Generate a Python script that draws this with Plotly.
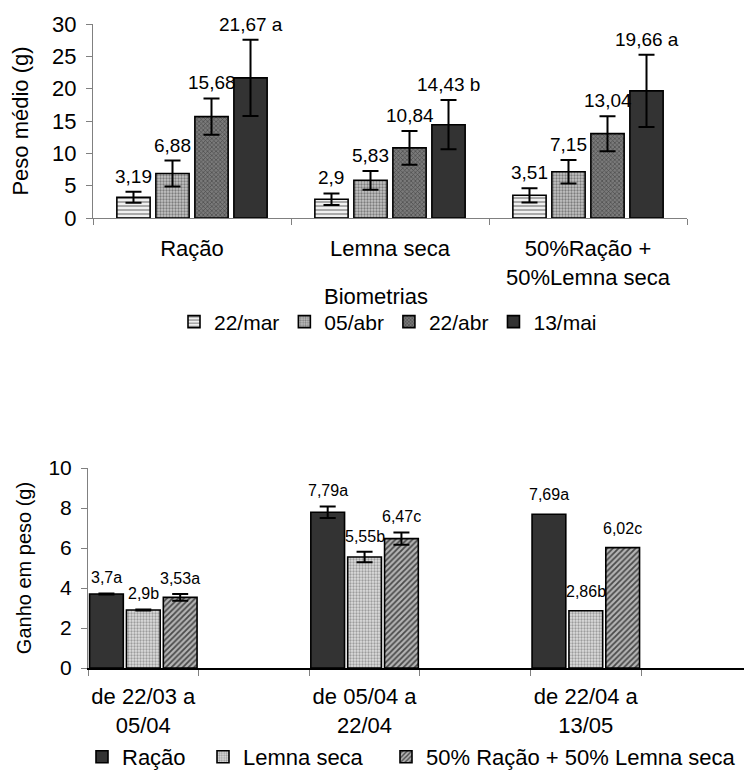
import plotly.graph_objects as go

# ---------------- Chart 1 data: Peso médio (g) ----------------
groups1 = ["Ração", "Lemna seca", "50%Ração +<br>50%Lemna seca"]
dates1 = ["22/mar", "05/abr", "22/abr", "13/mai"]
peso_22mar = [3.19, 2.90, 3.51]
peso_05abr = [6.88, 5.83, 7.15]
peso_22abr = [15.68, 10.84, 13.04]
peso_13mai = [21.67, 14.43, 19.66]
err_22mar = [0.85, 0.90, 1.10]
err_05abr = [2.00, 1.45, 1.80]
err_22abr = [2.80, 2.60, 2.70]
err_13mai = [5.90, 3.80, 5.60]
lab_22mar = ["3,19", "2,9", "3,51"]
lab_05abr = ["6,88", "5,83", "7,15"]
lab_22abr = ["15,68", "10,84", "13,04"]
lab_13mai = ["21,67 a", "14,43 b", "19,66 a"]
yticks1 = [0, 5, 10, 15, 20, 25, 30]

# ---------------- Chart 2 data: Ganho em peso (g) ----------------
periods2 = ["de 22/03 a<br>05/04", "de 05/04 a<br>22/04", "de 22/04 a<br>13/05"]
series2 = ["Ração", "Lemna seca", "50% Ração + 50% Lemna seca"]
ganho_racao = [3.70, 7.79, 7.69]
ganho_lemna = [2.90, 5.55, 2.86]
ganho_mix = [3.53, 6.47, 6.02]
err_racao = [0.03, 0.29, None]
err_lemna = [0.03, 0.26, None]
err_mix = [0.17, 0.31, None]
lab_racao = ["3,7a", "7,79a", "7,69a"]
lab_lemna = ["2,9b", "5,55b", "2,86b"]
lab_mix = ["3,53a", "6,47c", "6,02c"]
yticks2 = [0, 2, 4, 6, 8, 10]

FONT = "Liberation Sans, Arial, sans-serif"
H, W = 778, 744

fig = go.Figure()

# ----- chart 1
styles1 = [
    dict(color="#eeeeee", pattern=dict(shape="-", fgcolor="#8a8a8a", bgcolor="#f0f0f0", size=4, solidity=0.35)),
    dict(color="#b0b0b0", pattern=dict(shape=".", fgcolor="#7c7c7c", bgcolor="#c4c4c4", size=3, solidity=0.45)),
    dict(color="#666666", pattern=dict(shape="x", fgcolor="#4a4a4a", bgcolor="#7a7a7a", size=3, solidity=0.4)),
    dict(color="#333333"),
]
vals1 = [peso_22mar, peso_05abr, peso_22abr, peso_13mai]
errs1 = [err_22mar, err_05abr, err_22abr, err_13mai]
labs1 = [lab_22mar, lab_05abr, lab_22abr, lab_13mai]
slot1 = 0.197
width1 = 0.168
annotations = []
for i, name in enumerate(dates1):
    xs = [k + (i - 1.5) * slot1 for k in range(len(groups1))]
    fig.add_trace(go.Bar(
        x=xs, y=vals1[i], width=width1, name=name,
        marker=dict(line=dict(color="#000000", width=1.6), **styles1[i]),
        error_y=dict(type="data", array=errs1[i], visible=True, color="#000000", thickness=2, width=8),
        xaxis="x", yaxis="y", legend="legend", hoverinfo="skip",
    ))
    for x, v, e, t in zip(xs, vals1[i], errs1[i], labs1[i]):
        annotations.append(dict(x=x, y=v + e, xref="x", yref="y", text=t, showarrow=False,
                                yanchor="bottom", yshift=3, font=dict(family=FONT, size=19, color="#000")))

# ----- chart 2
styles2 = [
    dict(color="#333333"),
    dict(color="#c8c8c8", pattern=dict(shape=".", fgcolor="#9c9c9c", bgcolor="#dedede", size=3, solidity=0.45)),
    dict(color="#999999", pattern=dict(shape="/", fgcolor="#4a4a4a", bgcolor="#b4b4b4", size=4, solidity=0.45)),
]
vals2 = [ganho_racao, ganho_lemna, ganho_mix]
errs2 = [err_racao, err_lemna, err_mix]
labs2 = [lab_racao, lab_lemna, lab_mix]
legends2 = ["legend2", "legend3", "legend4"]
slot2 = 1 / 3
width2 = 0.305
for i, name in enumerate(series2):
    xs = [2 * k + (i - 1) * slot2 for k in range(len(periods2))]
    fig.add_trace(go.Bar(
        x=xs, y=vals2[i], width=width2, name=name,
        marker=dict(line=dict(color="#000000", width=1.6), **styles2[i]),
        xaxis="x2", yaxis="y2", legend=legends2[i], hoverinfo="skip",
    ))
    ex = [x for x, e in zip(xs, errs2[i]) if e is not None]
    ey = [v for v, e in zip(vals2[i], errs2[i]) if e is not None]
    ee = [e for e in errs2[i] if e is not None]
    fig.add_trace(go.Scatter(
        x=ex, y=ey, mode="markers", marker=dict(size=1, opacity=0), showlegend=False,
        error_y=dict(type="data", array=ee, visible=True, color="#000000", thickness=2, width=8),
        xaxis="x2", yaxis="y2", hoverinfo="skip",
    ))
    for x, v, e, t in zip(xs, vals2[i], errs2[i], labs2[i]):
        annotations.append(dict(x=x, y=v + (e or 0), xref="x2", yref="y2", text=t, showarrow=False,
                                yanchor="bottom", yshift=5 if e else 9,
                                font=dict(family=FONT, size=16, color="#000")))

annotations.append(dict(x=376 / W, y=1 - 297 / H, xref="paper", yref="paper", text="Biometrias",
                        showarrow=False, xanchor="center", yanchor="middle",
                        font=dict(family=FONT, size=22, color="#000")))

legend_common = dict(orientation="h", yanchor="middle", font=dict(size=22),
                     bgcolor="rgba(0,0,0,0)", itemwidth=30)

fig.update_layout(
    template="none",
    width=W, height=H, margin=dict(l=0, r=0, t=0, b=0, autoexpand=False),
    paper_bgcolor="white", plot_bgcolor="white",
    font=dict(family=FONT, size=22, color="#000"),
    barmode="overlay", showlegend=True,
    annotations=annotations,
    xaxis=dict(
        domain=[93 / W, 687 / W], anchor="y", range=[-0.5, 2.5], automargin=False,
        tickmode="array", tickvals=list(range(len(groups1))), ticktext=groups1,
        ticks="", showline=True, linecolor="#808080", linewidth=1,
        showgrid=False, zeroline=False, tickfont=dict(size=22), ticklabelstandoff=11,
        minor=dict(ticks="outside", tick0=-0.5, dtick=1, ticklen=6, tickcolor="#808080", showgrid=False),
    ),
    yaxis=dict(
        domain=[1 - 218 / H, 1 - 24 / H], anchor="x", range=[0, 30], automargin=False,
        tickmode="array", tickvals=yticks1, ticks="outside", ticklen=6, tickcolor="#808080",
        showline=True, linecolor="#808080", linewidth=1, showgrid=False, zeroline=False,
        tickfont=dict(size=22), ticklabelstandoff=5,
        title=dict(text="Peso médio (g)", font=dict(size=22), standoff=17),
    ),
    xaxis2=dict(
        domain=[88 / W, 1.0], anchor="y2", range=[-0.5, 5.43], automargin=False,
        tickmode="array", tickvals=[2 * k for k in range(len(periods2))], ticktext=periods2,
        ticks="", showline=True, linecolor="#000000", linewidth=1.5,
        showgrid=False, zeroline=False, tickfont=dict(size=22), ticklabelstandoff=8,
        minor=dict(ticks="outside", tick0=-0.5, dtick=1, ticklen=6, tickcolor="#808080", showgrid=False),
    ),
    yaxis2=dict(
        domain=[1 - 668 / H, 1 - 468 / H], anchor="x2", range=[0, 10], automargin=False,
        tickmode="array", tickvals=yticks2, ticks="outside", ticklen=6, tickcolor="#808080",
        showline=True, linecolor="#808080", linewidth=1, showgrid=False, zeroline=False,
        tickfont=dict(size=21), ticklabelstandoff=5,
        title=dict(text="Ganho em peso (g)", font=dict(size=20), standoff=11),
    ),
    legend=dict(legend_common, x=388 / W, xanchor="center", y=1 - 322 / H, font=dict(size=21)),
    legend2=dict(legend_common, x=82 / W, xanchor="left", y=1 - 757 / H),
    legend3=dict(legend_common, x=203 / W, xanchor="left", y=1 - 757 / H),
    legend4=dict(legend_common, x=386 / W, xanchor="left", y=1 - 757 / H),
)

fig.write_html("out.html")
